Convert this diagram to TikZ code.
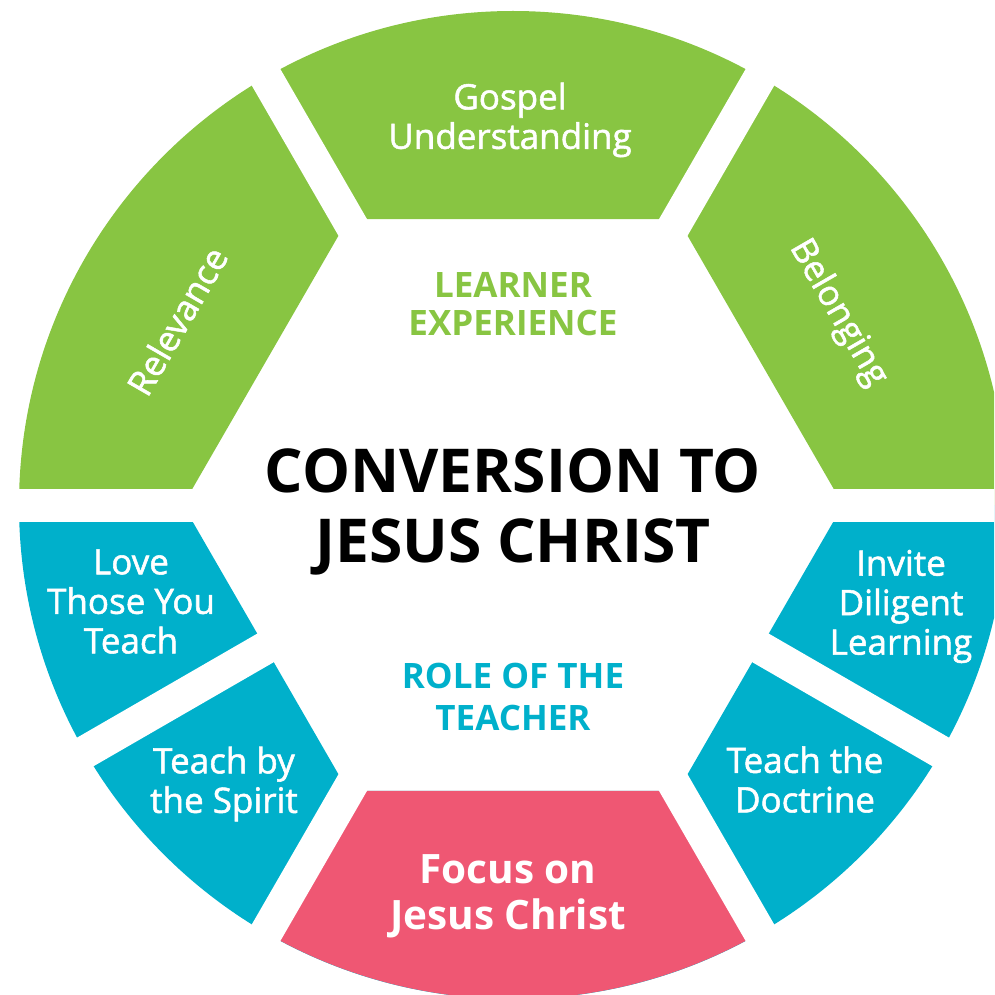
\documentclass[tikz,border=0pt]{standalone}
\usepackage{fontspec}
\setmainfont{Open Sans}
\newfontfamily\segfont{Open Sans}[FakeBold=1.5]
\usepackage{tikz}
\usetikzlibrary{positioning}
\definecolor{leafgreen}{HTML}{88C542}
\definecolor{tealblue}{HTML}{00B0CB}
\definecolor{rosepink}{HTML}{EF5773}

\begin{document}
\begin{tikzpicture}[x=1pt,y=1pt]
    \tikzstyle{every node}+=[inner sep=0pt]
    \tikzstyle{seg}=[white,align=center,font=\segfont\fontsize{35}{39.5}\selectfont]
    \tikzstyle{hub}=[align=center,font=\bfseries\fontsize{35}{38}\selectfont]
    \tikzstyle{gap}=[white,line width=33pt]
    \useasboundingbox (0,0) rectangle (994,-995);
    \clip (0,0) rectangle (994,-995);
    % ring round the hexagon, centre at (513,-505)
    \begin{scope}[shift={(513,-505)}]
        \fill [leafgreen] (0:494) arc [start angle=0,end angle=180,radius=494]
            -- (180:330) -- (120:330) -- (60:330) -- (0:330) -- cycle;
        \fill [tealblue] (180:494) arc [start angle=180,end angle=360,radius=494]
            -- (0:330) -- (300:330) -- (240:330) -- (180:330) -- cycle;
        \fill [rosepink] (240:494) arc [start angle=240,end angle=300,radius=494]
            -- (300:330) -- (240:330) -- cycle;
        % white gaps between the segments
        \foreach \a in {0,60,120,180,240,300,210,330}
            \draw [gap] (0,0) -- (\a:520);
    \end{scope}
    % segment labels
    \node (gospel) [seg] at (510,-120) {Gospel\\Understanding};
    \node (relevance) [seg,rotate=60] at (177,-321) {Relevance};
    \node (belonging) [seg,rotate=-60] at (838,-313) {Belonging};
    \node (love) [seg] at (131,-601.5) {Love\\Those You\\Teach};
    \node (invite) [seg] at (901,-606.5) {Invite\\Diligent\\Learning};
    \node (spirit) [seg] at (224,-784) {Teach by\\the Spirit};
    \node (doctrine) [seg] at (805,-779.5) {Teach the\\Doctrine};
    \node (focus) [seg,font=\bfseries\fontsize{40.5}{46}\selectfont] at (508,-896) {Focus on\\Jesus Christ};
    % middle
    \node (learner) [hub,text=leafgreen] at (513,-304) {LEARNER\\EXPERIENCE};
    \node (conversion) [hub,font=\bfseries\fontsize{60.5}{70}\selectfont] at (513,-512) {CONVERSION TO\\JESUS CHRIST};
    \node (role) [hub,text=tealblue,font=\bfseries\fontsize{35}{42}\selectfont] at (513,-697) {ROLE OF THE\\TEACHER};
\end{tikzpicture}
\end{document}
